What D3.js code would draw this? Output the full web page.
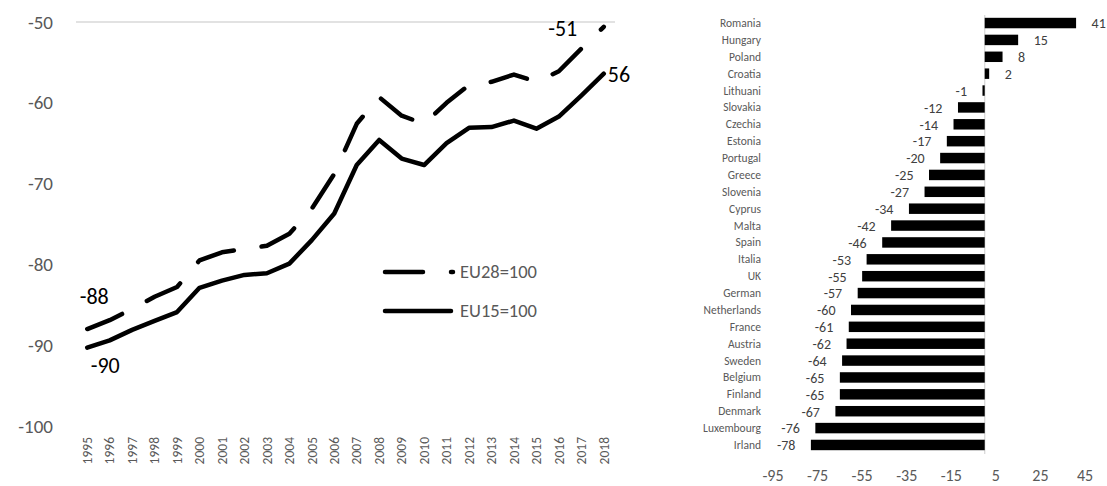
<!DOCTYPE html>
<html>
<head>
<meta charset="utf-8">
<script src="https://cdn.jsdelivr.net/npm/d3@7"></script>
<style>
  body { margin: 0; background: #fff; }
  svg { display: block; font-family: Carlito, Calibri, Lato, sans-serif; }
</style>
</head>
<body>
<svg width="1107" height="486"></svg>
<script>
// left chart: gap vs EU averages
const years = d3.range(1995, 2019).map(String);
const eu28 = [-88.0, -86.9, -85.5, -84.0, -82.8, -79.5, -78.5, -78.1, -77.7, -76.2, -73.1, -68.8,
              -62.6, -59.3, -61.6, -62.6, -60.0, -57.8, -57.4, -56.5, -57.4, -56.1, -53.3, -50.6];
const eu15 = [-90.3, -89.4, -88.1, -87.0, -85.9, -82.9, -82.0, -81.3, -81.1, -79.9, -77.0, -73.7,
              -67.7, -64.6, -66.9, -67.7, -65.0, -63.1, -63.0, -62.2, -63.2, -61.7, -59.1, -56.4];
const leftTicks = [-50, -60, -70, -80, -90, -100];
const seriesNames = ['EU28=100', 'EU15=100'];

// right chart: countries
const countries = ['Romania', 'Hungary', 'Poland', 'Croatia', 'Lithuani', 'Slovakia', 'Czechia', 'Estonia',
  'Portugal', 'Greece', 'Slovenia', 'Cyprus', 'Malta', 'Spain', 'Italia', 'UK', 'German', 'Netherlands',
  'France', 'Austria', 'Sweden', 'Belgium', 'Finland', 'Denmark', 'Luxembourg', 'Irland'];
const gaps = [41, 15, 8, 2, -1, -12, -14, -17, -20, -25, -27, -34, -42, -46, -53, -55, -57, -60,
  -61, -62, -64, -65, -65, -67, -76, -78];
const rightTicks = [-95, -75, -55, -35, -15, 5, 25, 45];

const svg = d3.select('svg');
const grey = '#595959';

// ---- left
let x = d3.scalePoint().domain(years).range([76, 615]).padding(0.5);
let y = d3.scaleLinear().domain([-100, -50]).range([426, 22]);

svg.append('line')
    .attr('x1', 76).attr('x2', 615)
    .attr('y1', y(-50)).attr('y2', y(-50))
    .attr('stroke', '#d9d9d9').attr('stroke-width', 1.3);

svg.append('g').selectAll('text')
    .data(leftTicks)
    .join('text')
    .attr('x', 53)
    .attr('y', d => y(d))
    .attr('dy', '0.35em')
    .attr('text-anchor', 'end')
    .attr('fill', grey)
    .style('font-size', '19px')
    .text(d => d);

svg.append('g').selectAll('text')
    .data(years)
    .join('text')
    .attr('transform', d => `translate(${x(d)},437) rotate(-90)`)
    .attr('dy', '0.35em')
    .attr('text-anchor', 'end')
    .attr('fill', grey)
    .style('font-size', '13.5px')
    .text(d => d);

let line = d3.line()
    .x((d, i) => x(years[i]))
    .y(d => y(d));

svg.append('path')
    .datum(eu15)
    .attr('d', line)
    .attr('fill', 'none')
    .attr('stroke', '#000')
    .attr('stroke-width', 4.5)
    .attr('stroke-linejoin', 'round')
    .attr('stroke-linecap', 'round');

svg.append('path')
    .datum(eu28)
    .attr('d', line)
    .attr('fill', 'none')
    .attr('stroke', '#000')
    .attr('stroke-width', 4.5)
    .attr('stroke-dasharray', '38,28')
    .attr('stroke-linejoin', 'round')
    .attr('stroke-linecap', 'round');

// end labels
let n = years.length - 1;
let lbl = svg.append('g').style('font-size', '22px').attr('fill', '#000');
lbl.append('text').attr('x', x(years[0]) + 7).attr('y', y(eu28[0]) - 25)
    .attr('text-anchor', 'middle').text(Math.round(eu28[0]));
lbl.append('text').attr('x', x(years[0]) + 18).attr('y', y(eu15[0]) + 25)
    .attr('text-anchor', 'middle').text(Math.round(eu15[0]));
lbl.append('text').attr('x', x(years[n]) - 41).attr('y', y(eu28[n]) + 9)
    .attr('text-anchor', 'middle').text(Math.round(eu28[n]));
lbl.append('text').attr('x', x(years[n]) + 4).attr('y', y(eu15[n]) + 8)
    .text(Math.abs(Math.round(eu15[n])));

// legend
let leg = svg.append('g');
[0, 1].forEach(i => {
    let ly = 272 + i * 39;
    leg.append('line')
        .attr('x1', 385).attr('x2', 385 + (i == 0 ? 68 : 66))
        .attr('y1', ly).attr('y2', ly)
        .attr('stroke', '#000').attr('stroke-width', 4.5)
        .attr('stroke-linecap', 'round')
        .attr('stroke-dasharray', i == 0 ? '38,28' : null);
    leg.append('text')
        .attr('x', 460).attr('y', ly)
        .attr('dy', '0.35em')
        .attr('fill', grey)
        .style('font-size', '18.5px')
        .text(seriesNames[i]);
});

// ---- right
let xr = d3.scaleLinear().domain([-95, 45]).range([773, 1085]);
let yr = d3.scaleBand().domain(countries).range([14.6, 453.4]).paddingInner(0.38).paddingOuter(0.19);

svg.append('line')
    .attr('x1', xr(0)).attr('x2', xr(0))
    .attr('y1', 15).attr('y2', 454)
    .attr('stroke', '#d9d9d9').attr('stroke-width', 1.3);

svg.append('g').selectAll('rect')
    .data(gaps)
    .join('rect')
    .attr('x', d => xr(Math.min(0, d)))
    .attr('width', d => Math.abs(xr(d) - xr(0)))
    .attr('y', (d, i) => yr(countries[i]))
    .attr('height', yr.bandwidth())
    .attr('fill', '#000');

svg.append('g').selectAll('text')
    .data(gaps)
    .join('text')
    .attr('x', d => d < 0 ? xr(d) - 15.5 : xr(d) + 15.5)
    .attr('y', (d, i) => yr(countries[i]) + yr.bandwidth() / 2)
    .attr('dy', '0.38em')
    .attr('text-anchor', d => d < 0 ? 'end' : 'start')
    .attr('fill', '#404040')
    .style('font-size', '14px')
    .text(d => d);

svg.append('g').selectAll('text')
    .data(countries)
    .join('text')
    .attr('x', 761)
    .attr('y', d => yr(d) + yr.bandwidth() / 2)
    .attr('dy', '0.35em')
    .attr('text-anchor', 'end')
    .attr('fill', grey)
    .style('font-size', '11.5px')
    .text(d => d);

svg.append('g').selectAll('text')
    .data(rightTicks)
    .join('text')
    .attr('x', d => xr(d))
    .attr('y', 481)
    .attr('text-anchor', 'middle')
    .attr('fill', grey)
    .style('font-size', '16px')
    .text(d => d);
</script>
</body>
</html>
